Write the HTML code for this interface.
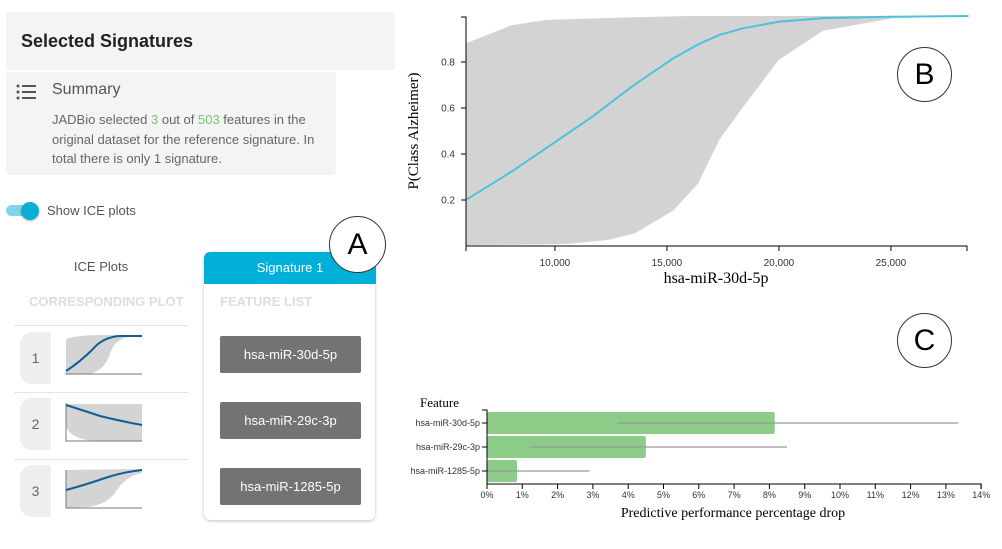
<!DOCTYPE html>
<html><head><meta charset="utf-8"><style>
body{margin:0;width:1002px;height:549px;background:#fff;position:relative;overflow:hidden;font-family:"Liberation Sans",sans-serif}
.a{position:absolute}
.btn{position:absolute;left:220px;width:141px;height:37px;background:#737373;border-radius:2px;color:#fff;font-size:13px;line-height:37px;text-align:center}
.num{position:absolute;left:20px;width:31px;height:52px;background:#eee;border-radius:12px 0 0 12px;color:#666;font-size:14px;line-height:52px;text-align:center}
.dot{position:absolute;left:15px;width:172px;border-top:1px dotted #ccc}
.circ{position:absolute;border:1px solid #333;border-radius:50%;background:#fff;font-size:30px;text-align:center;color:#000}
</style></head><body>
<div class="a" style="left:6px;top:12px;width:389px;height:58px;background:#f4f4f4"></div>
<div class="a" style="left:21px;top:31px;font-size:18px;font-weight:bold;color:#222">Selected Signatures</div>
<div class="a" style="left:6px;top:72px;width:330px;height:103px;background:#f4f4f4;border-radius:4px"></div>
<svg class="a" style="left:16px;top:84px" width="22" height="16"><g fill="#555"><circle cx="2" cy="2" r="1.5"/><circle cx="2" cy="8" r="1.5"/><circle cx="2" cy="14" r="1.5"/><rect x="6" y="1" width="14" height="2"/><rect x="6" y="7" width="14" height="2"/><rect x="6" y="13" width="14" height="2"/></g></svg>
<div class="a" style="left:52px;top:81px;font-size:16px;color:#555">Summary</div>
<div class="a" style="left:52px;top:110px;width:285px;font-size:13px;line-height:19.5px;color:#666">JADBio selected <span style="color:#7cc576">3</span> out of <span style="color:#7cc576">503</span> features in the original dataset for the reference signature. In total there is only 1 signature.</div>
<div class="a" style="left:6px;top:205px;width:32px;height:11px;background:#7fd6ea;border-radius:6px"></div>
<div class="a" style="left:21px;top:202px;width:18px;height:18px;background:#0aaed6;border-radius:50%;box-shadow:0 1px 2px rgba(0,0,0,.3)"></div>
<div class="a" style="left:47px;top:203px;font-size:13px;color:#555">Show ICE plots</div>
<div class="a" style="left:60px;top:259px;width:82px;text-align:center;font-size:13px;color:#555">ICE Plots</div>
<div class="a" style="left:29px;top:294px;font-size:13px;font-weight:bold;color:#ddd">CORRESPONDING PLOT</div>
<div class="dot" style="top:325px"></div>
<div class="dot" style="top:392px"></div>
<div class="dot" style="top:459px"></div>
<div class="num" style="top:332px">1</div>
<div class="num" style="top:398px">2</div>
<div class="num" style="top:465px">3</div>
<svg class="a" style="left:65px;top:334px" width="78" height="42"><path d="M1,5 Q10,1 40,1 L77,1 L77,1 Q50,1 45,20 Q38,40 20,40 L1,40Z" fill="#d4d4d4"/><path d="M1,39 L1,40 L77,40" stroke="#777" fill="none"/><path d="M1,37 Q15,28 28,15 Q38,3 55,2 L77,2" stroke="#0e5f96" stroke-width="2" fill="none"/></svg>
<svg class="a" style="left:65px;top:401px" width="78" height="42"><path d="M1,3 L77,3 L77,40 L30,40 Q5,38 1,25Z" fill="#d4d4d4"/><path d="M1,2 L1,40 L77,40" stroke="#777" fill="none"/><path d="M1,4 Q20,10 35,15 Q55,20 77,24" stroke="#0e5f96" stroke-width="2" fill="none"/></svg>
<svg class="a" style="left:65px;top:468px" width="78" height="42"><path d="M1,2 L77,1 L77,5 Q60,8 50,25 Q40,38 20,39 L1,40Z" fill="#d4d4d4"/><path d="M1,2 L1,40 L77,40" stroke="#777" fill="none"/><path d="M1,22 Q20,17 40,10 Q58,4 77,2" stroke="#0e5f96" stroke-width="2" fill="none"/></svg>
<div class="a" style="left:204px;top:252px;width:171px;height:268px;background:#fff;border-radius:6px;box-shadow:0 1px 3px rgba(0,0,0,.25)"></div>
<div class="a" style="left:204px;top:252px;width:172px;height:32px;background:#00b0d8;border-radius:6px 6px 0 0;color:#fff;font-size:13px;line-height:32px;text-align:center">Signature 1</div>
<div class="a" style="left:220px;top:294px;font-size:13px;font-weight:bold;color:#ddd">FEATURE LIST</div>
<div class="btn" style="top:336px">hsa-miR-30d-5p</div>
<div class="btn" style="top:402px">hsa-miR-29c-3p</div>
<div class="btn" style="top:468px">hsa-miR-1285-5p</div>
<div class="circ" style="left:329px;top:216px;width:55px;height:55px;line-height:55px">A</div>

<svg class="a" id="ice" style="left:0;top:0" width="1002" height="549"></svg>
<div class="circ" style="left:897px;top:47px;width:53px;height:53px;line-height:53px">B</div>
<div class="circ" style="left:897px;top:313px;width:53px;height:53px;line-height:53px">C</div>
<script>
const iceX=[6070,8060,10040,11670,13390,15280,16480,17330,18360,19990,21970,25060,28460];
const iceMean=[0.203,0.323,0.454,0.562,0.690,0.816,0.881,0.917,0.946,0.975,0.991,0.997,1.0];
const bandUpX=[6030,8060,9600,13390,16000,28460];
const bandUp=[0.881,0.96,0.983,0.994,1.0,1.0];
const bandLoX=[6030,9950,10800,12360,13560,15280,16390,17330,18360,19990,21970,25060,28460];
const bandLo=[0.004,0.007,0.011,0.026,0.055,0.154,0.272,0.461,0.599,0.809,0.936,0.99,1.0];
const xTicks=[10000,15000,20000,25000];
const yTicks=[0.2,0.4,0.6,0.8];
const features=["hsa-miR-30d-5p","hsa-miR-29c-3p","hsa-miR-1285-5p"];
const drops=[8.15,4.5,0.85];
const errLo=[3.7,1.2,0];
const errHi=[13.35,8.5,2.9];
const pctTicks=[0,1,2,3,4,5,6,7,8,9,10,11,12,13,14];
const NS="http://www.w3.org/2000/svg";
const svg=document.getElementById('ice');
function mk(t,a,p){const e=document.createElementNS(NS,t);for(const k in a)e.setAttribute(k,a[k]);(p||svg).appendChild(e);return e;}
const X=v=>466+(v-6030)/5000*112, Y=p=>246-p*230;
let d="M"+bandUpX.map((v,i)=>X(v)+","+Y(bandUp[i])).join("L");
for(let i=bandLoX.length-1;i>=0;i--)d+="L"+X(bandLoX[i])+","+Y(bandLo[i]);
let band=mk('path',{d:d+"Z",fill:"#d3d3d3"});


let line=mk('path',{d:"M"+iceX.map((v,i)=>X(v)+","+Y(iceMean[i])).join("L"),fill:"none",stroke:"#4cc3dc","stroke-width":2});


mk('path',{d:"M461,17H466V246H967V251",fill:"none",stroke:"#000"});
mk('line',{x1:466,x2:466,y1:246,y2:251,stroke:"#000"});
xTicks.forEach(t=>{mk('line',{x1:X(t),x2:X(t),y1:246,y2:251,stroke:"#000"});
 const tx=mk('text',{x:X(t),y:266,"text-anchor":"middle","font-size":10,fill:"#333"});tx.textContent=t.toLocaleString('en-US');
 
 });
yTicks.forEach(t=>{mk('line',{x1:461,x2:466,y1:Y(t),y2:Y(t),stroke:"#000"});
 const tx=mk('text',{x:455,y:Y(t)+3.5,"text-anchor":"end","font-size":10,fill:"#333"});tx.textContent=t;
 
 });
let xt=mk('text',{x:716,y:283,"text-anchor":"middle","font-size":16,"font-family":"Liberation Serif, serif"});xt.textContent="hsa-miR-30d-5p";


let yt=mk('text',{x:0,y:0,"text-anchor":"middle","font-size":15,"font-family":"Liberation Serif, serif",transform:"translate(418,131) rotate(-90)"});yt.textContent="P(Class Alzheimer)";


const PX=v=>487+v*35.3;
features.forEach((f,i)=>{const y0=412+i*24;
 const b=mk('rect',{x:PX(0),y:y0,width:PX(drops[i])-PX(0),height:22,fill:"#8dcb88",rx:2});
 
 
 const e=mk('line',{x1:PX(errLo[i]),x2:PX(errHi[i]),y1:y0+11,y2:y0+11,stroke:"#999","stroke-width":1.3});
 
 
 mk('line',{x1:482,x2:487,y1:y0+11,y2:y0+11,stroke:"#000"});
 const t=mk('text',{x:480,y:y0+14,"text-anchor":"end","font-size":9,fill:"#333"});t.textContent=f;
 
 });
mk('path',{d:"M482,410H487V484H981V489",fill:"none",stroke:"#000"});
pctTicks.forEach(t=>{mk('line',{x1:PX(t),x2:PX(t),y1:484,y2:489,stroke:"#000"});
 const tx=mk('text',{x:PX(t),y:498,"text-anchor":"middle","font-size":9,fill:"#333"});tx.textContent=t+"%";
 
 });
let ft=mk('text',{x:420,y:407,"font-size":13,"font-family":"Liberation Serif, serif"});ft.textContent="Feature";


let pt=mk('text',{x:733,y:517,"text-anchor":"middle","font-size":14,"font-family":"Liberation Serif, serif"});pt.textContent="Predictive performance percentage drop";


</script>
</body></html>
